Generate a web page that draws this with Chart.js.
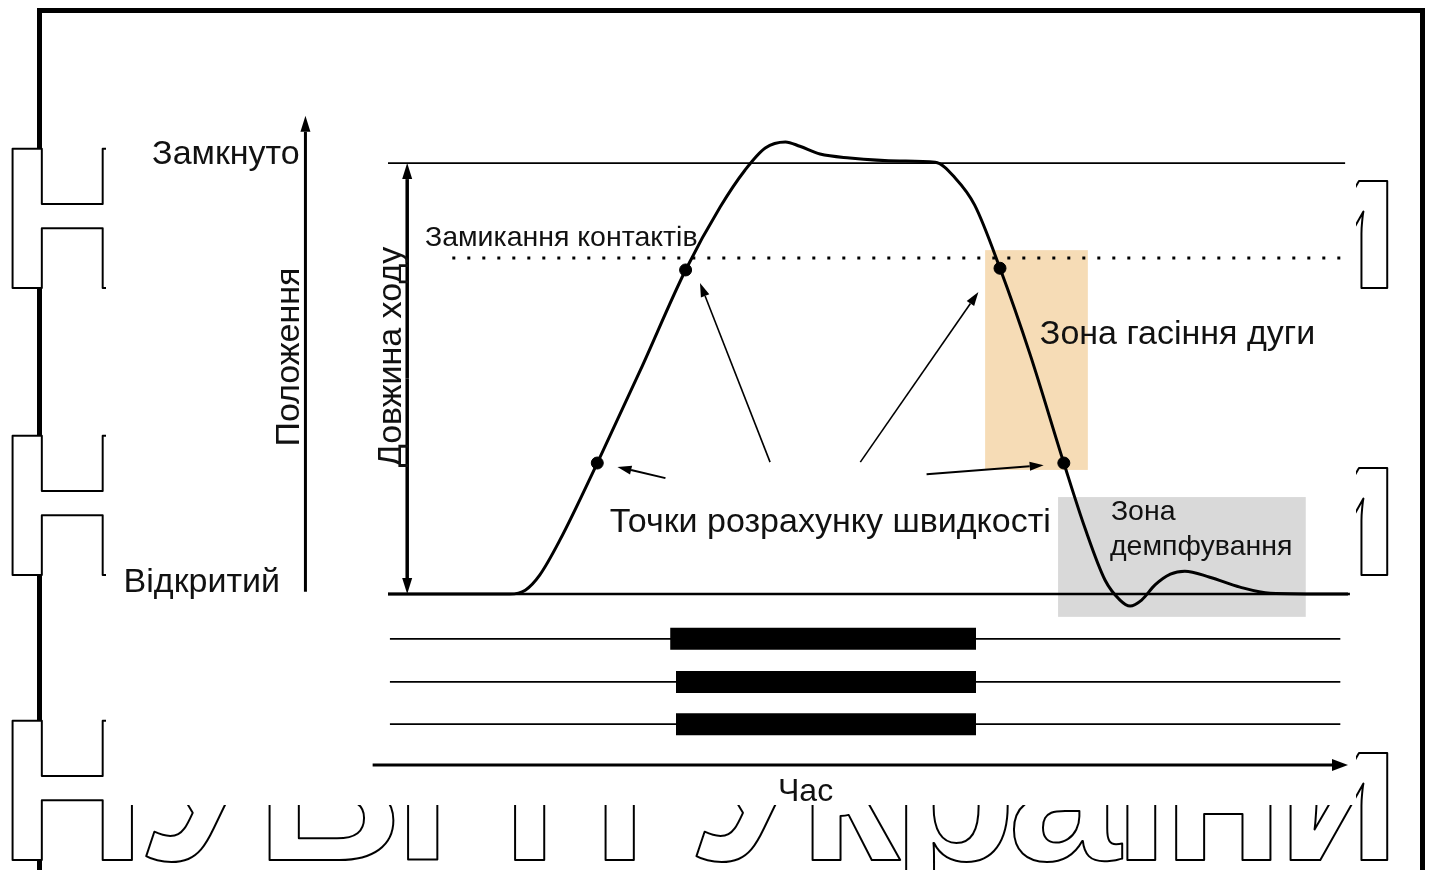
<!DOCTYPE html>
<html>
<head>
<meta charset="utf-8">
<title>Хід контактів вимикача</title>
<script src="https://cdn.jsdelivr.net/npm/chart.js@4.4.1/dist/chart.umd.min.js"></script>
<style>
    html, body { margin: 0; padding: 0; background: #fff; }
    canvas { display: block; }
</style>
</head>
<body>
<canvas id="travelChart" width="1435" height="870"></canvas>
<script>
// Travel curve: time (arbitrary units, 0..100) vs contact position (% of stroke)
const curveTime = [0, 12.7, 14.3, 15.8, 17.9, 21.8, 26.3, 31.0, 34.6, 37.2, 39.3, 41.4, 42.9, 45.0, 48.1, 53.3, 57.0,
    59.1, 61.1, 63.75, 66.9, 70.4, 72.6, 74.7, 76.25, 77.3, 78.5, 79.9, 81.5, 83.0, 85.6, 88.75, 91.9, 100];
const curvePos = [0, 0, 0.9, 4.4, 12.5, 30.4, 52.0, 75.2, 89.8, 98.4, 103.5, 104.9, 103.9, 102.1, 101.2, 100.5, 100.2,
    96.5, 90.3, 75.6, 55.5, 30.4, 15.3, 3.2, -1.4, -2.8, -1.4, 2.1, 4.6, 5.3, 3.9, 1.6, 0.2, 0];

// Speed calculation points (lie on the curve)
const speedTime = [21.8, 31.0, 63.75, 70.4];
const speedPos = [30.4, 75.2, 75.6, 30.4];

// Reference levels
const closedLevel = 100;
const openLevel = 0;
const contactLevel = 78;

// Contact state rows below the curve
const rowLevels = [-10.4, -20.4, -30.2];
const rowStart = [29.4, 30.0, 30.0];
const rowEnd = [61.25, 61.25, 61.25];
const timeAxisLevel = -39.7;

// Shaded zones
const arcZoneTime = [62.2, 72.9];
const arcZonePos = [28.8, 79.8];
const dampZoneTime = [69.8, 95.6];
const dampZonePos = [-5.3, 22.5];

const FONT = '"Liberation Sans", Arial, sans-serif';

function pts(xs, ys) {
    return xs.map((x, i) => ({ x: x, y: ys[i] }));
}

function flat(level, t0, t1) {
    return [{ x: t0, y: level }, { x: t1, y: level }];
}

function drawArrow(ctx, x1, y1, x2, y2, headLen, headW, lw) {
    const a = Math.atan2(y2 - y1, x2 - x1);
    const bx = x2 - headLen * Math.cos(a);
    const by = y2 - headLen * Math.sin(a);
    ctx.lineWidth = lw;
    ctx.beginPath();
    ctx.moveTo(x1, y1);
    ctx.lineTo(bx, by);
    ctx.stroke();
    ctx.beginPath();
    ctx.moveTo(x2, y2);
    ctx.lineTo(bx + headW / 2 * Math.sin(a), by - headW / 2 * Math.cos(a));
    ctx.lineTo(bx - headW / 2 * Math.sin(a), by + headW / 2 * Math.cos(a));
    ctx.closePath();
    ctx.fill();
}

// Background, zones, frame, labels and arrows
const diagramPlugin = {
    id: 'diagram',
    beforeDraw(chart) {
        const ctx = chart.ctx;
        ctx.save();
        ctx.fillStyle = '#fff';
        ctx.fillRect(0, 0, chart.width, chart.height);
        ctx.restore();
    },
    beforeDatasetsDraw(chart) {
        const ctx = chart.ctx;
        const X = v => chart.scales.x.getPixelForValue(v);
        const Y = v => chart.scales.y.getPixelForValue(v);
        ctx.save();
        ctx.fillStyle = '#f6dcb6';
        ctx.fillRect(X(arcZoneTime[0]), Y(arcZonePos[1]), X(arcZoneTime[1]) - X(arcZoneTime[0]), Y(arcZonePos[0]) - Y(arcZonePos[1]));
        ctx.fillStyle = '#d9d9d9';
        ctx.fillRect(X(dampZoneTime[0]), Y(dampZonePos[1]), X(dampZoneTime[1]) - X(dampZoneTime[0]), Y(dampZonePos[0]) - Y(dampZonePos[1]));
        ctx.restore();
    },
    afterDatasetsDraw(chart) {
        const ctx = chart.ctx;
        const X = v => chart.scales.x.getPixelForValue(v);
        const Y = v => chart.scales.y.getPixelForValue(v);
        ctx.save();
        ctx.strokeStyle = '#000';
        ctx.fillStyle = '#000';

        // position axis (Положення)
        drawArrow(ctx, X(-8.6), Y(0.5), X(-8.6), Y(111), 16, 10, 3);
        // stroke length double arrow (Довжина ходу)
        drawArrow(ctx, X(2.0), Y(50), X(2.0), Y(closedLevel), 16, 10, 3.5);
        drawArrow(ctx, X(2.0), Y(50), X(2.0), Y(openLevel), 16, 10, 3.5);
        // time axis
        drawArrow(ctx, X(-1.6), Y(timeAxisLevel), X(100), Y(timeAxisLevel), 16, 12, 3);

        // pointers to speed calculation points
        drawArrow(ctx, X(39.8), Y(30.6), X(32.5), Y(72.2), 14, 9, 1.6);
        drawArrow(ctx, X(49.2), Y(30.6), X(61.5), Y(70.1), 14, 9, 1.6);
        drawArrow(ctx, X(28.9), Y(26.9), X(23.9), Y(29.5), 14, 9, 2);
        drawArrow(ctx, X(56.1), Y(27.8), X(68.3), Y(29.9), 14, 9, 2);

        // labels
        ctx.fillStyle = '#111';
        ctx.textBaseline = 'alphabetic';
        ctx.font = '34px ' + FONT;
        ctx.textAlign = 'right';
        ctx.fillText('Замкнуто', X(-9.2), Y(99.8));
        ctx.fillText('Відкритий', X(-11.25), Y(0.46));

        ctx.textAlign = 'center';
        ctx.save();
        ctx.translate(X(-9.3), Y(55));
        ctx.rotate(-Math.PI / 2);
        ctx.fillText('Положення', 0, 0);
        ctx.restore();
        ctx.save();
        ctx.translate(X(1.4), Y(55));
        ctx.rotate(-Math.PI / 2);
        ctx.fillText('Довжина ходу', 0, 0);
        ctx.restore();

        ctx.textAlign = 'left';
        ctx.font = '28.5px ' + FONT;
        ctx.fillText('Замикання контактів', X(3.85), Y(80.7));
        ctx.font = '34px ' + FONT;
        ctx.fillText('Зона гасіння дуги', X(67.9), Y(58.0));
        ctx.fillText('Точки розрахунку швидкості', X(23.1), Y(14.4));
        ctx.font = '28.5px ' + FONT;
        ctx.fillText('Зона', X(75.3), Y(17.2));
        ctx.fillText('демпфування', X(75.2), Y(9.0));
        ctx.textAlign = 'center';
        ctx.font = '32px ' + FONT;
        ctx.fillText('Час', X(43.5), Y(-48.0));
        ctx.restore();
    },
    afterDraw(chart) {
        const ctx = chart.ctx;
        ctx.save();
        // page frame
        ctx.strokeStyle = '#000';
        ctx.lineWidth = 5;
        ctx.beginPath();
        ctx.moveTo(39.5, chart.height);
        ctx.lineTo(39.5, 10.5);
        ctx.lineTo(1422.5, 10.5);
        ctx.lineTo(1422.5, chart.height);
        ctx.stroke();

        // outlined watermark, only visible around the figure
        ctx.beginPath();
        ctx.rect(0, 0, 106, chart.height);
        ctx.rect(1356, 0, 64, chart.height);
        ctx.rect(0, 805, 1420, chart.height - 805);
        ctx.clip();
        ctx.font = 'bold 203px ' + FONT;
        ctx.letterSpacing = '-8px';
        ctx.textAlign = 'left';
        ctx.textBaseline = 'alphabetic';
        ctx.lineWidth = 2;
        ctx.lineJoin = 'round';
        [288, 575, 860].forEach(base => {
            ctx.fillStyle = '#fff';
            ctx.fillText('НУВГП України', -1, base);
            ctx.strokeText('НУВГП України', -1, base);
        });
        ctx.restore();
    }
};

const lineStyle = { borderColor: '#000', pointRadius: 0, fill: false, clip: false };

const datasets = [
    Object.assign({ label: 'Замкнуто', data: flat(closedLevel, 0, 99.7), borderWidth: 1.6 }, lineStyle),
    Object.assign({ label: 'Відкритий', data: flat(openLevel, 0, 100.2), borderWidth: 2.5 }, lineStyle),
    Object.assign({ label: 'Замикання контактів', data: flat(contactLevel, 6.7, 99.2), borderWidth: 3, borderDash: [3, 12] }, lineStyle)
];

rowLevels.forEach((lvl, i) => {
    datasets.push(Object.assign({ label: 'Контакт ' + (i + 1), data: flat(lvl, 0.2, 99.2), borderWidth: 1.8 }, lineStyle));
    datasets.push(Object.assign({ label: 'Замкнено ' + (i + 1), data: flat(lvl, rowStart[i], rowEnd[i]), borderWidth: 22, borderCapStyle: 'butt' }, lineStyle));
});

datasets.push(Object.assign({
    label: 'Хід',
    data: pts(curveTime, curvePos),
    borderWidth: 3,
    cubicInterpolationMode: 'monotone'
}, lineStyle));

datasets.push({
    label: 'Точки розрахунку швидкості',
    data: pts(speedTime, speedPos),
    showLine: false,
    pointRadius: 6,
    pointBackgroundColor: '#000',
    pointBorderColor: '#000',
    clip: false
});

new Chart(document.getElementById('travelChart'), {
    type: 'line',
    data: { datasets: datasets },
    options: {
        responsive: false,
        animation: false,
        events: [],
        layout: { padding: { left: 388, right: 87, top: 120, bottom: 103.6 } },
        plugins: { legend: { display: false }, tooltip: { enabled: false } },
        scales: {
            x: { type: 'linear', min: 0, max: 100, display: false },
            y: { type: 'linear', min: -40, max: 110, display: false }
        }
    },
    plugins: [diagramPlugin]
});
</script>
</body>
</html>
